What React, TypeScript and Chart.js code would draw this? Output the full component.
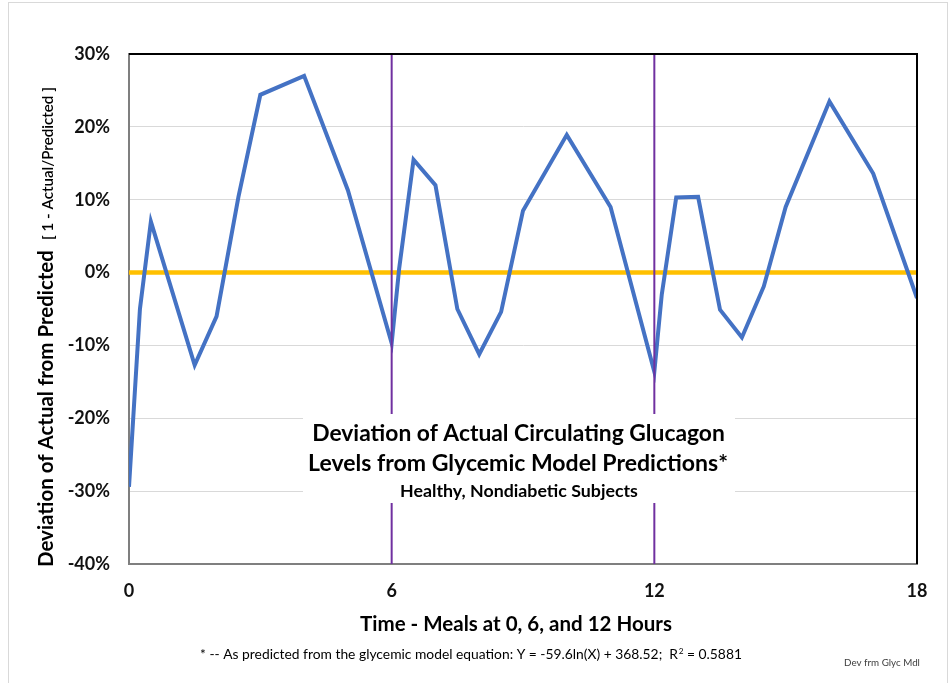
import React, { useEffect, useRef } from "react";
import { Chart, registerables } from "chart.js";

Chart.register(...registerables);

// ---- data ----
const TIMES = [0, 0.25, 0.5, 1.5, 2, 2.5, 3, 4, 5, 6, 6.17, 6.5, 7, 7.5, 8, 8.5, 9, 10, 11, 12, 12.17, 12.5, 13, 13.5, 14, 14.5, 15, 16, 17, 18];
const DEVIATION = [-29.4, -5.0, 7.0, -12.7, -6.0, 10.4, 24.4, 27.0, 11.3, -9.7, 0.5, 15.5, 12.0, -5.0, -11.2, -5.4, 8.5, 18.9, 9.0, -13.6, -3.0, 10.3, 10.4, -5.1, -8.9, -1.9, 9.0, 23.5, 13.6, -3.5];
const MEAL_TIMES = [6, 12];
const X_RANGE = [0, 18];
const X_STEP = 6;
const Y_RANGE = [-40, 30];
const Y_STEP = 10;
const ZERO_LEVEL = 0;

// ---- text ----
const BOX_LINES = [
  "Deviation of Actual Circulating Glucagon",
  "Levels from Glycemic Model Predictions*",
];
const BOX_SUB = "Healthy, Nondiabetic Subjects";
const X_TITLE = "Time - Meals at 0, 6, and 12 Hours";
const Y_TITLE_MAIN = "Deviation of Actual from Predicted";
const Y_TITLE_SUB = "[ 1 - Actual/Predicted ]";
const FOOT_A = "* -- As predicted from the glycemic model equation: Y = -59.6ln(X) + 368.52;  R";
const FOOT_SUP = "2";
const FOOT_B = " = 0.5881";
const CREDIT = "Dev frm Glyc Mdl";

const FAMILY = "Lato, 'Open Sans', sans-serif";

function fitSize(ctx: CanvasRenderingContext2D, text: string, weight: string, target: number) {
  ctx.font = `${weight} 100px ${FAMILY}`;
  const w = ctx.measureText(text).width;
  return (100 * target) / w;
}

function drawFitted(ctx: CanvasRenderingContext2D, text: string, weight: string, cx: number, cy: number, target: number, color = "#000") {
  const s = fitSize(ctx, text, weight, target);
  ctx.font = `${weight} ${s}px ${FAMILY}`;
  ctx.fillStyle = color;
  ctx.textAlign = "center";
  ctx.textBaseline = "middle";
  ctx.fillText(text, cx, cy);
}

const decorPlugin = {
  id: "decor",
  beforeDraw(chart: any) {
    const ctx = chart.ctx as CanvasRenderingContext2D;
    ctx.save();
    ctx.fillStyle = "#fff";
    ctx.fillRect(0, 0, chart.width, chart.height);
    ctx.strokeStyle = "#d9d9d9";
    ctx.lineWidth = 1;
    ctx.strokeRect(8.5, 2.5, 939, 720);
    ctx.restore();
  },
  afterDatasetsDraw(chart: any) {
    const ctx = chart.ctx as CanvasRenderingContext2D;
    const { left, right, top, bottom } = chart.chartArea;
    ctx.save();
    // plot border top/right
    ctx.strokeStyle = "#000";
    ctx.lineWidth = 2;
    ctx.beginPath();
    ctx.moveTo(left, top);
    ctx.lineTo(right, top);
    ctx.lineTo(right, bottom);
    ctx.stroke();

    // annotation box
    ctx.fillStyle = "#fff";
    ctx.fillRect(303, 414, 432, 89);
    drawFitted(ctx, BOX_LINES[0], "bold", 518.5, 434, 413);
    drawFitted(ctx, BOX_LINES[1], "bold", 518, 464, 420);
    drawFitted(ctx, BOX_SUB, "bold", 519, 491, 238);

    // x title
    drawFitted(ctx, X_TITLE, "bold", 516, 624, 312);

    // footnote with superscript
    ctx.font = `normal 100px ${FAMILY}`;
    const wa = ctx.measureText(FOOT_A).width;
    const wb = ctx.measureText(FOOT_B).width;
    ctx.font = `normal 60px ${FAMILY}`;
    const ws = ctx.measureText(FOOT_SUP).width;
    const scale = 542 / (wa + wb + ws);
    const fs = 100 * scale;
    const x0 = 200;
    const yb = 659;
    ctx.fillStyle = "#000";
    ctx.textAlign = "left";
    ctx.textBaseline = "alphabetic";
    ctx.font = `normal ${fs}px ${FAMILY}`;
    ctx.fillText(FOOT_A, x0, yb);
    ctx.font = `normal ${fs * 0.6}px ${FAMILY}`;
    ctx.fillText(FOOT_SUP, x0 + wa * scale, yb - fs * 0.38);
    ctx.font = `normal ${fs}px ${FAMILY}`;
    ctx.fillText(FOOT_B, x0 + (wa + ws) * scale, yb);

    // credit
    drawFitted(ctx, CREDIT, "normal", 882, 663, 76, "#404040");

    // y title (rotated, mixed sizes)
    ctx.translate(53, 567);
    ctx.rotate(-Math.PI / 2);
    ctx.fillStyle = "#000";
    ctx.textAlign = "left";
    ctx.textBaseline = "alphabetic";
    const sMain = fitSize(ctx, Y_TITLE_MAIN, "bold", 317);
    ctx.font = `bold ${sMain}px ${FAMILY}`;
    ctx.fillText(Y_TITLE_MAIN, 0, 0);
    const sSub = fitSize(ctx, Y_TITLE_SUB, "600", 153);
    ctx.font = `600 ${sSub}px ${FAMILY}`;
    ctx.fillText(Y_TITLE_SUB, 327, 0);
    ctx.restore();
  },
};

export default function App() {
  const ref = useRef<HTMLCanvasElement>(null);
  useEffect(() => {
    if (!ref.current) return;
    const datasets: any[] = [
      {
        label: "zero",
        data: X_RANGE.map((x) => ({ x, y: ZERO_LEVEL })),
        borderColor: "#FFC000",
        borderWidth: 4.5,
        pointRadius: 0,
        showLine: true,
        order: 3,
      },
      {
        label: "Deviation",
        data: TIMES.map((t, i) => ({ x: t, y: DEVIATION[i] })),
        borderColor: "#4472C4",
        borderWidth: 4,
        pointRadius: 0,
        showLine: true,
        borderJoinStyle: "miter",
        order: 2,
      },
      ...MEAL_TIMES.map((m) => ({
        label: `meal ${m}`,
        data: Y_RANGE.map((y) => ({ x: m, y })),
        borderColor: "#7030A0",
        borderWidth: 2,
        pointRadius: 0,
        showLine: true,
        order: 1,
      })),
    ];
    const chart = new Chart(ref.current, {
      type: "scatter",
      data: { datasets },
      options: {
        animation: false,
        responsive: false,
        devicePixelRatio: 1,
        layout: { padding: { left: 0, top: 54, right: 32, bottom: 0 } },
        plugins: { legend: { display: false }, tooltip: { enabled: false } },
        scales: {
          x: {
            type: "linear",
            min: X_RANGE[0],
            max: X_RANGE[1],
            grid: { display: false, drawTicks: false },
            border: { display: true, color: "#7f7f7f", width: 2 },
            ticks: {
              stepSize: X_STEP,
              padding: 16,
              color: "#111",
              font: { family: FAMILY, size: 18, weight: "bold" },
            },
            afterFit: (s: any) => {
              s.height = 119;
            },
          },
          y: {
            min: Y_RANGE[0],
            max: Y_RANGE[1],
            grid: { color: "#d9d9d9", lineWidth: 1, drawTicks: false },
            border: { display: true, color: "#7f7f7f", width: 2 },
            ticks: {
              stepSize: Y_STEP,
              padding: 19,
              color: "#111",
              font: { family: FAMILY, size: 18, weight: "bold" },
              callback: (v: any) => `${v}%`,
            },
            afterFit: (s: any) => {
              s.width = 129;
            },
          },
        },
      },
      plugins: [decorPlugin],
    });
    return () => chart.destroy();
  }, []);
  return (
    <div style={{ position: "fixed", left: 0, top: 0, width: 949, height: 683, background: "#fff" }}>
      <canvas ref={ref} width={949} height={683} style={{ width: 949, height: 683, display: "block" }} />
    </div>
  );
}
